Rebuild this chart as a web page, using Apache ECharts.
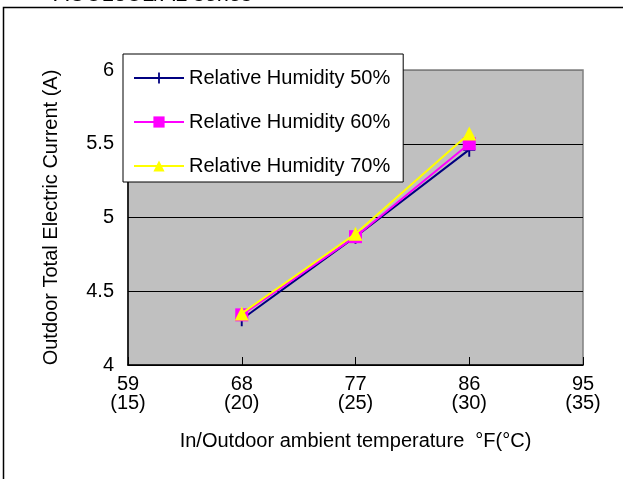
<!DOCTYPE html>
<html>
<head>
<meta charset="utf-8">
<script src="https://cdn.jsdelivr.net/npm/echarts@6/dist/echarts.min.js"></script>
<style>
html,body{margin:0;padding:0;background:#fff;}
#chart{width:623px;height:479px;}
</style>
</head>
<body>
<div id="chart"></div>
<script>
// ---- data ----
const tempF = [68, 77, 86];
const tickF = [59, 68, 77, 86, 95];
const tickC = [15, 20, 25, 30, 35];
const seriesNames = ['Relative Humidity 50%', 'Relative Humidity 60%', 'Relative Humidity 70%'];
const rh50 = [4.31, 4.87, 5.46];
const rh60 = [4.34, 4.87, 5.50];
const rh70 = [4.35, 4.89, 5.57];
const titleText = 'AOU18UL/AL series';
const xName = 'In/Outdoor ambient temperature  °F(°C)';
const yName = 'Outdoor Total Electric Current (A)';

const FONT = '"Liberation Sans", Arial, sans-serif';
const FS = 20;
const plusPath = 'path://M4.2,0H5.8V4.2H10V5.8H5.8V10H4.2V5.8H0V4.2H4.2Z';

function pairs(vals){ return tempF.map((x,i)=>[x, vals[i]]); }

const chart = echarts.init(document.getElementById('chart'), null, {renderer:'canvas'});
chart.setOption({
  backgroundColor: '#ffffff',
  animation: false,
  textStyle: {fontFamily: FONT},
  graphic: [
    {type:'polyline', shape:{points:[[3.5,520],[3.5,7.5],[640,7.5]]}, style:{stroke:'#000', lineWidth:1.5, fill:null}, z:0},
    {type:'text', left:54, top:-16, style:{text:titleText, font:'22px ' + FONT, fill:'#000'}, z:0}
  ],
  grid: {left:128, right:40, top:70, bottom:114, show:true, backgroundColor:'#C0C0C0', borderColor:'#808080', borderWidth:1.5},
  legend: {
    orient:'vertical', left:123, top:54,
    padding:[14, 13, 6, 10],
    itemWidth:50, itemHeight:14, itemGap:24,
    backgroundColor:'#fff', borderColor:'#000', borderWidth:1,
    textStyle:{fontFamily:FONT, fontSize:FS, color:'#000'},
    data: seriesNames
  },
  xAxis: {
    type:'value', min:59, max:95, interval:9,
    name:xName, nameLocation:'middle', nameGap:66,
    nameTextStyle:{fontFamily:FONT, fontSize:FS, color:'#000'},
    axisLine:{lineStyle:{color:'#000', width:1.5}},
    axisTick:{inside:true, length:8, lineStyle:{color:'#000'}},
    splitLine:{show:false},
    axisLabel:{
      fontFamily:FONT, fontSize:FS, color:'#000', lineHeight:19, margin:10,
      formatter:function(v){ const i = tickF.indexOf(v); return v + '\n(' + tickC[i] + ')'; }
    }
  },
  yAxis: {
    type:'value', min:4, max:6, interval:0.5,
    name:yName, nameLocation:'middle', nameGap:67, nameRotate:90,
    nameTextStyle:{fontFamily:FONT, fontSize:FS, color:'#000'},
    axisLine:{show:true, lineStyle:{color:'#000', width:1.5}},
    axisTick:{show:false},
    splitLine:{show:true, lineStyle:{color:['#000','#000','#000','#000','#808080'], width:1}},
    axisLabel:{fontFamily:FONT, fontSize:FS, color:'#000', margin:14}
  },
  series: [
    {name:seriesNames[0], type:'line', data:pairs(rh50), symbol:plusPath, symbolSize:[12,14],
     lineStyle:{color:'#000080', width:2}, itemStyle:{color:'#000080'}, z:3},
    {name:seriesNames[1], type:'line', data:pairs(rh60), symbol:'rect', symbolSize:13,
     lineStyle:{color:'#FF00FF', width:2}, itemStyle:{color:'#FF00FF'}, z:4},
    {name:seriesNames[2], type:'line', data:pairs(rh70), symbol:'triangle', symbolSize:[14,14],
     lineStyle:{color:'#FFFF00', width:2}, itemStyle:{color:'#FFFF00'}, z:5}
  ]
});
</script>
</body>
</html>
